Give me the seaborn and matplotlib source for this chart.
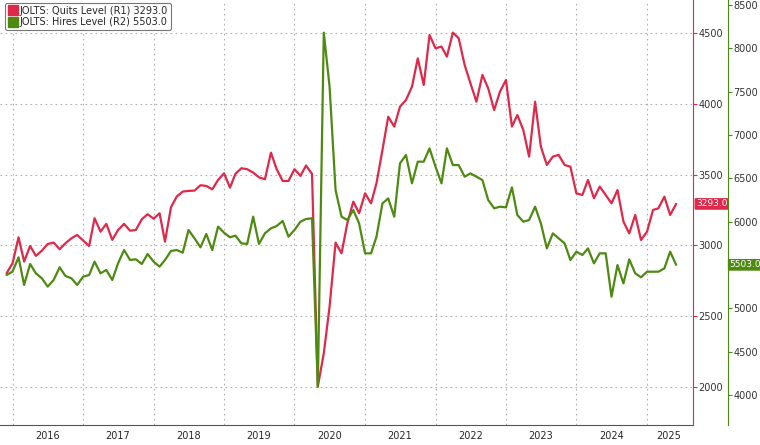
import pandas as pd
import matplotlib
matplotlib.use("Agg")
import matplotlib.pyplot as plt
import seaborn as sns

# monthly, Dec 2015 .. Jun 2025 (thousands)
quits = [2803, 2874, 3057, 2886, 2996, 2926, 2963, 3010, 3020, 2973, 3015, 3050, 3074, 3034,
         2996, 3192, 3097, 3152, 3039, 3109, 3152, 3104, 3109, 3185, 3220, 3189, 3227, 3027,
         3269, 3345, 3380, 3385, 3387, 3425, 3420, 3396, 3462, 3509, 3408, 3505, 3545, 3538,
         3514, 3481, 3467, 3655, 3538, 3455, 3455, 3538, 3491, 3564, 3505,
         2003, 2238, 2568, 3020, 2944, 3156, 3309, 3227, 3368, 3297, 3439, 3674, 3909, 3839,
         3980, 4027, 4121, 4321, 4133, 4486, 4392, 4404, 4333, 4503, 4463, 4274, 4145, 4015,
         4204, 4109, 3956, 4086, 4168, 3839, 3921, 3815, 3627, 4015, 3697, 3568, 3627, 3639,
         3568, 3556, 3368, 3356, 3462, 3333, 3415, 3356, 3297, 3391, 3168, 3085, 3215, 3038,
         3097, 3250, 3262, 3344, 3215, 3293]
hires = [5386, 5425, 5590, 5271, 5513, 5405, 5348, 5252, 5328, 5475, 5375, 5348, 5271, 5367,
         5386, 5540, 5405, 5444, 5328, 5521, 5674, 5559, 5567, 5513, 5628, 5540, 5482, 5559,
         5663, 5674, 5644, 5905, 5809, 5705, 5859, 5674, 5944, 5874, 5821, 5840, 5751, 5744,
         6059, 5744, 5867, 5924, 5951, 6009, 5828, 5905, 6001, 6032, 6040,
         4098, 8181, 7558, 6366, 6058, 6020, 6135, 5982, 5636, 5636, 5828, 6212, 6270, 6058,
         6674, 6770, 6443, 6693, 6693, 6847, 6635, 6443, 6847, 6654, 6654, 6520, 6558, 6520,
         6481, 6251, 6155, 6174, 6166, 6397, 6078, 6001, 6020, 6174, 5982, 5693, 5866, 5809,
         5751, 5559, 5655, 5616, 5693, 5520, 5636, 5636, 5136, 5501, 5289, 5566, 5405, 5359,
         5424, 5424, 5424, 5462, 5655, 5503]
years = list(range(2016, 2026))
quits_ticks = [2000, 2500, 3000, 3500, 4000, 4500]
hires_ticks = [4000, 4500, 5000, 5500, 6000, 6500, 7000, 7500, 8000, 8500]

df = pd.DataFrame({
    "date": pd.date_range("2015-12-01", periods=len(quits), freq="MS"),
    "quits": quits,
    "hires": hires,
})

RED = "#e0284a"
GREEN = "#4e8a12"

sns.set_style("white")
fig = plt.figure(figsize=(7.6, 4.45), dpi=100)
ax = fig.add_axes([0, 0.045, 0.912, 0.955])
ax2 = ax.twinx()

sns.lineplot(data=df, x="date", y="quits", ax=ax, color=RED, lw=1.6)
sns.lineplot(data=df, x="date", y="hires", ax=ax2, color=GREEN, lw=1.6)

ax.set_xlim(pd.Timestamp("2015-10-28"), pd.Timestamp("2025-08-28"))
ax.set_ylim(1732, 4733)
ax2.set_ylim(3656, 8558)

# x axis: year boundaries as ticks, labels mid-year (2025 centred in the visible part)
label_pos = [pd.Timestamp(f"{y}-07-01") for y in years[:-1]] + [pd.Timestamp("2025-04-25")]
ax.set_xticks([pd.Timestamp(f"{y}-01-01") for y in years])
ax.set_xticklabels([])
ax.set_xticks(label_pos, minor=True)
ax.set_xticklabels([str(y) for y in years], minor=True)
ax.tick_params(axis="x", which="major", length=4, direction="out", color="#555555")
ax.tick_params(axis="x", which="minor", length=0, pad=4, labelsize=7)

ax.yaxis.tick_right()
ax.set_yticks(quits_ticks)
ax.set_yticklabels([str(t) for t in quits_ticks])
ax.tick_params(axis="y", colors=RED, length=3, pad=1, labelcolor="#333333", labelsize=7)
ax2.set_yticks(hires_ticks)
ax2.set_yticklabels([str(t) for t in hires_ticks])
ax2.tick_params(axis="y", colors=GREEN, length=3, pad=1, labelcolor="#333333", labelsize=7)
ax2.spines["right"].set_position(("outward", 25))

for a in (ax, ax2):
    a.set_xlabel("")
    a.set_ylabel("")
    a.spines["top"].set_visible(False)
    a.spines["left"].set_visible(False)
ax.spines["right"].set_color(RED)
ax2.spines["right"].set_color(GREEN)
ax.spines["bottom"].set_color("#555555")
ax2.spines["bottom"].set_visible(False)

ax.grid(True, which="major", axis="both", color="#b0b0b0", ls=(0, (1.5, 3)), lw=0.8)
ax.set_axisbelow(True)

# last value tags
ax.annotate(f"{quits[-1]:.1f}", xy=(1.0, quits[-1]), xycoords=("axes fraction", "data"),
            xytext=(2, 0), textcoords="offset points", va="center", ha="left", fontsize=6.5,
            color="white", bbox=dict(boxstyle="round,pad=0.15", fc=RED, ec="none"),
            annotation_clip=False)
ax2.annotate(f"{hires[-1]:.1f}", xy=(1.0, hires[-1]), xycoords=("axes fraction", "data"),
             xytext=(26, 0), textcoords="offset points", va="center", ha="left", fontsize=6.5,
             color="white", bbox=dict(boxstyle="round,pad=0.15", fc=GREEN, ec="none"),
             annotation_clip=False, zorder=10)

# legend
handles = [plt.Line2D([0], [0], marker="s", ls="", color=RED, markersize=7),
           plt.Line2D([0], [0], marker="s", ls="", color=GREEN, markersize=7)]
leg = ax.legend(handles, [f"JOLTS: Quits Level (R1) {quits[-1]:.1f}",
                          f"JOLTS: Hires Level (R2) {hires[-1]:.1f}"],
                loc="upper left", bbox_to_anchor=(0.0, 1.005), fontsize=7, frameon=True,
                handletextpad=0.2, handlelength=1.0, borderpad=0.3, labelspacing=0.15,
                fancybox=True, edgecolor="#555555")
leg.get_frame().set_linewidth(0.8)
leg.set_zorder(10)

fig.savefig("out.png", dpi=100)
